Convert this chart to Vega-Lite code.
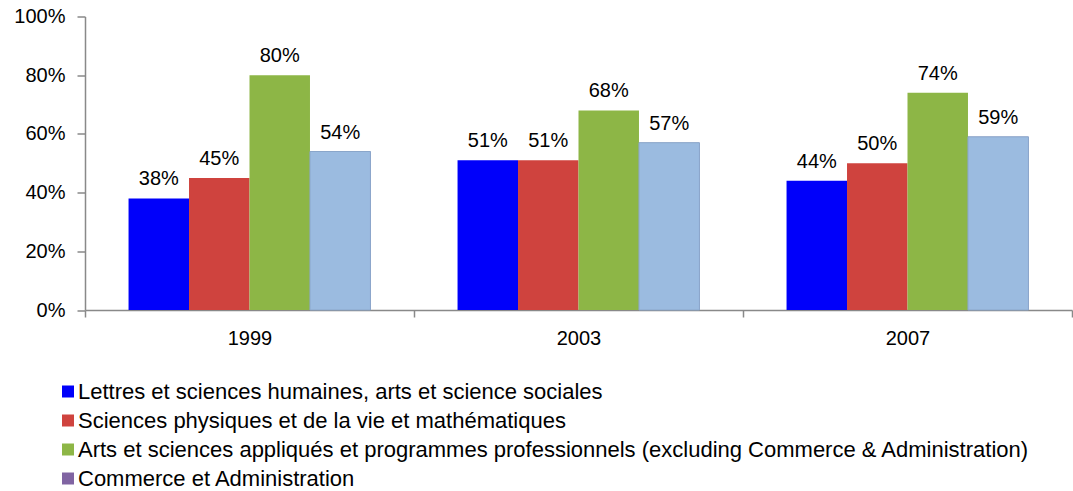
{
  "$schema": "https://vega.github.io/schema/vega-lite/v6.json",
  "autosize": {"type": "none"},
  "width": 987,
  "height": 293.5,
  "padding": {"left": 85, "top": 16.5, "right": 1, "bottom": 181},
  "background": "white",
  "config": {
    "font": "Liberation Sans",
    "view": {"stroke": null},
    "axis": {"labelFont": "Liberation Sans", "labelFontSize": 20, "labelColor": "#000000", "domainColor": "#898989", "tickColor": "#898989", "domainWidth": 1.5, "tickWidth": 1.5}
  },
  "data": {"values": [
    {"year": "1999", "cat": "Lettres et sciences humaines, arts et science sociales", "value": 0.38},
    {"year": "1999", "cat": "Sciences physiques et de la vie et mathématiques", "value": 0.45},
    {"year": "1999", "cat": "Arts et sciences appliqués et programmes professionnels (excluding Commerce & Administration)", "value": 0.80},
    {"year": "1999", "cat": "Commerce et Administration", "value": 0.54},
    {"year": "2003", "cat": "Lettres et sciences humaines, arts et science sociales", "value": 0.51},
    {"year": "2003", "cat": "Sciences physiques et de la vie et mathématiques", "value": 0.51},
    {"year": "2003", "cat": "Arts et sciences appliqués et programmes professionnels (excluding Commerce & Administration)", "value": 0.68},
    {"year": "2003", "cat": "Commerce et Administration", "value": 0.57},
    {"year": "2007", "cat": "Lettres et sciences humaines, arts et science sociales", "value": 0.44},
    {"year": "2007", "cat": "Sciences physiques et de la vie et mathématiques", "value": 0.50},
    {"year": "2007", "cat": "Arts et sciences appliqués et programmes professionnels (excluding Commerce & Administration)", "value": 0.74},
    {"year": "2007", "cat": "Commerce et Administration", "value": 0.59}
  ]},
  "encoding": {
    "x": {"field": "year", "type": "nominal", "title": null,
      "scale": {"paddingInner": 0, "paddingOuter": 0},
      "axis": {"labelAngle": 0, "tickBand": "extent", "tickSize": 7, "labelPadding": 11, "labelBaseline": "top"}},
    "xOffset": {"field": "cat", "type": "nominal",
      "sort": ["Lettres et sciences humaines, arts et science sociales", "Sciences physiques et de la vie et mathématiques", "Arts et sciences appliqués et programmes professionnels (excluding Commerce & Administration)", "Commerce et Administration"],
      "scale": {"paddingInner": 0, "paddingOuter": 0.72}},
    "y": {"field": "value", "type": "quantitative", "title": null,
      "scale": {"domain": [0, 1]},
      "axis": {"values": [0, 0.2, 0.4, 0.6, 0.8, 1], "format": ".0%", "grid": false, "tickSize": 8, "labelPadding": 12}}
  },
  "layer": [
    {
      "mark": {"type": "bar"},
      "encoding": {
        "color": {"field": "cat", "type": "nominal",
          "scale": {"domain": ["Lettres et sciences humaines, arts et science sociales", "Sciences physiques et de la vie et mathématiques", "Arts et sciences appliqués et programmes professionnels (excluding Commerce & Administration)", "Commerce et Administration"],
            "range": ["#0000FA", "#CF433E", "#8DB646", "#8064A2"]},
          "legend": {"orient": "none", "legendX": -28, "legendY": 364, "title": null, "direction": "vertical",
            "symbolType": "square", "symbolSize": 144, "symbolOpacity": 1, "symbolStrokeWidth": 0,
            "labelFontSize": 22, "labelFont": "Liberation Sans", "labelColor": "#000000", "labelOffset": -1,
            "labelLimit": 2000, "rowPadding": 7}}
      }
    },
    {
      "transform": [{"filter": "datum.cat === 'Commerce et Administration'"}],
      "mark": {"type": "bar", "color": "#9BBBE0", "stroke": "#8AA6CA", "strokeWidth": 1}
    },
    {
      "mark": {"type": "text", "fontSize": 20, "baseline": "alphabetic", "dy": -13, "color": "#000000"},
      "encoding": {
        "text": {"field": "value", "type": "quantitative", "format": ".0%"}
      }
    }
  ]
}
